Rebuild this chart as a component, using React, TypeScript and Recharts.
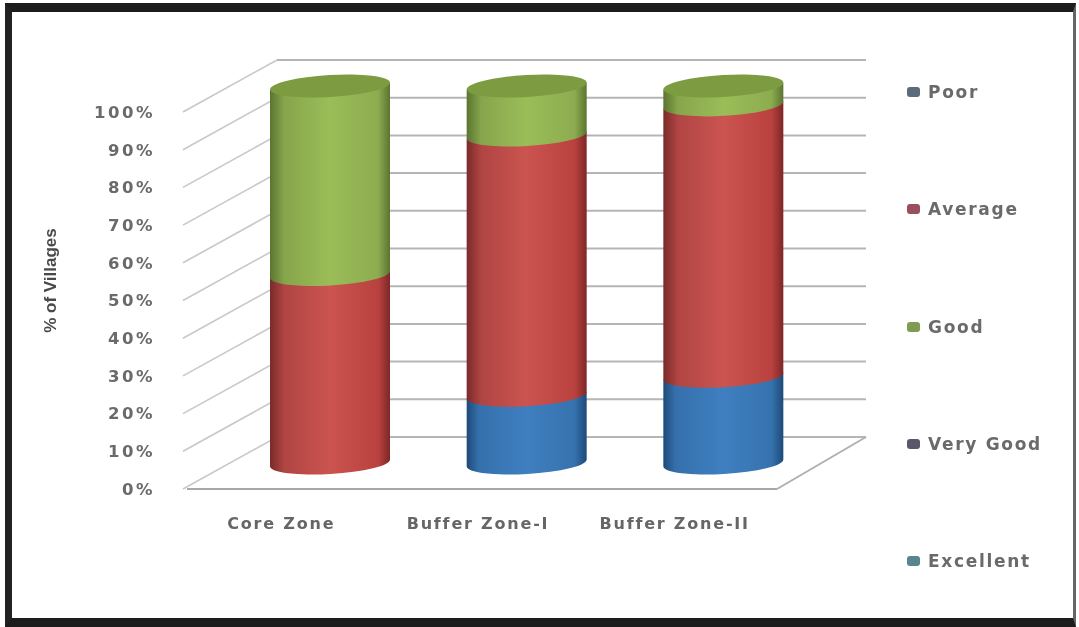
import React from "react";
import { BarChart, Bar, XAxis, YAxis, CartesianGrid, Legend } from "recharts";

const categories = ["Core Zone", "Buffer Zone-I", "Buffer Zone-II"];
const poor = [0, 18, 23];
const average = [50, 69, 72];
const good = [50, 13, 5];
const veryGood = [0, 0, 0];
const excellent = [0, 0, 0];
const yTicks = [0, 10, 20, 30, 40, 50, 60, 70, 80, 90, 100];
const seriesNames = ["Poor", "Average", "Good", "Very Good", "Excellent"];
const legendColors: Record<string, string> = {
  Poor: "#5c6b7c",
  Average: "#9a4f5e",
  Good: "#7f9c50",
  "Very Good": "#5a5768",
  Excellent: "#57868e",
};

const data = categories.map((name, i) => ({
  name,
  Poor: poor[i],
  Average: average[i],
  Good: good[i],
  "Very Good": veryGood[i],
  Excellent: excellent[i],
}));

// Depth offset of the 3D look: front plane to back wall and to the bars' mid-depth.
const WALL_DX = 90;
const WALL_DY = -52;
const BAR_DX = 45;
const BAR_DY = -26;
const RY = 11;
const TILT = 3.5;
const WALL_RIGHT = 866;
const GRID = "#b5b5b5";

function Cylinder(props: any) {
  const { x, y, width, height, grad, capFill } = props;
  if (!(height > 0)) return null;
  const l = x + BAR_DX;
  const r = l + width;
  const top = y + BAR_DY;
  const bot = top + height;
  const rx = width / 2;
  const angle = (-Math.atan(TILT / rx) * 180) / Math.PI;
  const d = `M${l},${top + TILT} L${l},${bot + TILT} A${rx},${RY} ${angle} 0 0 ${r},${bot - TILT} L${r},${top - TILT} Z`;
  return (
    <g>
      <path d={d} fill={`url(#${grad})`} />
      {capFill ? (
        <ellipse
          cx={l + rx}
          cy={top}
          rx={rx}
          ry={RY}
          fill={capFill}
          transform={`rotate(${angle} ${l + rx} ${top})`}
        />
      ) : null}
    </g>
  );
}

function GridLine(props: any) {
  const { x1, y1, x2 } = props;
  const bx = x1 + WALL_DX;
  const by = y1 + WALL_DY;
  return (
    <g key={props.key}>
      <line x1={x1 - 4} y1={y1} x2={bx} y2={by} stroke="#c8c8c8" strokeWidth={1.6} />
      <line x1={bx} y1={by} x2={WALL_RIGHT} y2={by} stroke={GRID} strokeWidth={2} />
      {y1 > 480 ? (
        <line x1={x2} y1={y1} x2={WALL_RIGHT} y2={by} stroke="#b0b0b0" strokeWidth={2} />
      ) : null}
    </g>
  );
}

function LegendList(props: any) {
  const items = [...(props.payload || [])].sort(
    (a: any, b: any) => seriesNames.indexOf(a.value) - seriesNames.indexOf(b.value)
  );
  return (
    <div>
      {items.map((it: any) => (
        <div
          key={it.value}
          style={{
            height: 117.25,
            display: "flex",
            alignItems: "flex-start",
            fontFamily: "'DejaVu Sans', sans-serif",
            fontWeight: 700,
            fontSize: 17,
            lineHeight: "20px",
            color: "#6a6a6a",
            letterSpacing: 1.7,
            whiteSpace: "nowrap",
          }}
        >
          <span
            style={{
              width: 13,
              height: 10,
              marginTop: 5,
              marginRight: 8,
              borderRadius: 3,
              background: legendColors[it.value],
            }}
          />
          {it.value}
        </div>
      ))}
    </div>
  );
}

const yTickStyle = {
  fontFamily: "'DejaVu Sans', sans-serif",
  fontWeight: 700,
  fontSize: 16.5,
  fill: "#6a6a6a",
  letterSpacing: 2.5,
};

const xTickStyle = {
  fontFamily: "'DejaVu Sans', sans-serif",
  fontWeight: 700,
  fontSize: 16,
  fill: "#666",
  letterSpacing: 1.8,
  dx: -4,
};

export default function App() {
  return (
    <div
      style={{
        position: "absolute",
        left: 0,
        top: 0,
        width: 1079,
        height: 627,
        background: "#fff",
        overflow: "hidden",
      }}
    >
      <div
        style={{
          position: "absolute",
          left: 5,
          top: 3,
          width: 1071,
          height: 624,
          boxSizing: "border-box",
          borderTop: "9px solid #1c1c1c",
          borderLeft: "7px solid #222",
          borderBottom: "9px solid #1c1c1c",
          borderRight: "3px solid #666",
        }}
      />
      <div style={{ position: "absolute", left: 0, top: 0, filter: "blur(0.7px)" }}>
        <BarChart
          width={1079}
          height={627}
          data={data}
          margin={{ top: 112, right: 137, bottom: 108, left: 37 }}
          barSize={120}
        >
          <defs>
            <linearGradient id="gPoor" x1="0" y1="0" x2="1" y2="0">
              <stop offset="0" stopColor="#1d4a78" />
              <stop offset="0.1" stopColor="#3570ac" />
              <stop offset="0.5" stopColor="#3f7fc0" />
              <stop offset="0.9" stopColor="#3672ae" />
              <stop offset="1" stopColor="#1d4a78" />
            </linearGradient>
            <linearGradient id="gAverage" x1="0" y1="0" x2="1" y2="0">
              <stop offset="0" stopColor="#7a2a2a" />
              <stop offset="0.12" stopColor="#b04543" />
              <stop offset="0.5" stopColor="#cb5450" />
              <stop offset="0.9" stopColor="#b9423f" />
              <stop offset="1" stopColor="#7e2726" />
            </linearGradient>
            <linearGradient id="gGood" x1="0" y1="0" x2="1" y2="0">
              <stop offset="0" stopColor="#5a7530" />
              <stop offset="0.12" stopColor="#87a54c" />
              <stop offset="0.5" stopColor="#9bbd58" />
              <stop offset="0.9" stopColor="#8dac50" />
              <stop offset="1" stopColor="#5a7530" />
            </linearGradient>
          </defs>
          <CartesianGrid vertical={false} horizontal={(p: any) => <GridLine {...p} />} />
          <XAxis
            dataKey="name"
            tickLine={false}
            axisLine={{ stroke: "#a8a8a8", strokeWidth: 2 }}
            tickMargin={23}
            tick={xTickStyle}
            interval={0}
          />
          <YAxis
            type="number"
            domain={[0, 100]}
            ticks={yTicks}
            interval={0}
            width={150}
            axisLine={false}
            tickLine={false}
            tickMargin={26}
            tickFormatter={(v: number) => `${v}%`}
            tick={yTickStyle}
            label={{
              value: "% of Villages",
              angle: -90,
              position: "insideLeft",
              offset: 13,
              dy: -20,
              style: {
                textAnchor: "middle",
                fontFamily: "'Liberation Sans', sans-serif",
                fontWeight: 700,
                fontSize: 17,
                fill: "#4a4a4a",
              },
            }}
          />
          <Bar dataKey="Poor" stackId="a" fill="#3f7fc0" isAnimationActive={false}
            shape={(p: any) => <Cylinder {...p} grad="gPoor" />} />
          <Bar dataKey="Average" stackId="a" fill="#c0504d" isAnimationActive={false}
            shape={(p: any) => <Cylinder {...p} grad="gAverage" />} />
          <Bar dataKey="Good" stackId="a" fill="#9bbb59" isAnimationActive={false}
            shape={(p: any) => <Cylinder {...p} grad="gGood" capFill="#7d9c42" />} />
          <Bar dataKey="Very Good" stackId="a" fill="#8064a2" isAnimationActive={false}
            shape={(p: any) => <Cylinder {...p} grad="gGood" />} />
          <Bar dataKey="Excellent" stackId="a" fill="#4bacc6" isAnimationActive={false}
            shape={(p: any) => <Cylinder {...p} grad="gGood" />} />
          <Legend
            layout="vertical"
            align="right"
            verticalAlign="top"
            content={<LegendList />}
            wrapperStyle={{ position: "absolute", left: 907, top: 82, width: 165, right: "auto", bottom: "auto" }}
          />
        </BarChart>
      </div>
    </div>
  );
}
